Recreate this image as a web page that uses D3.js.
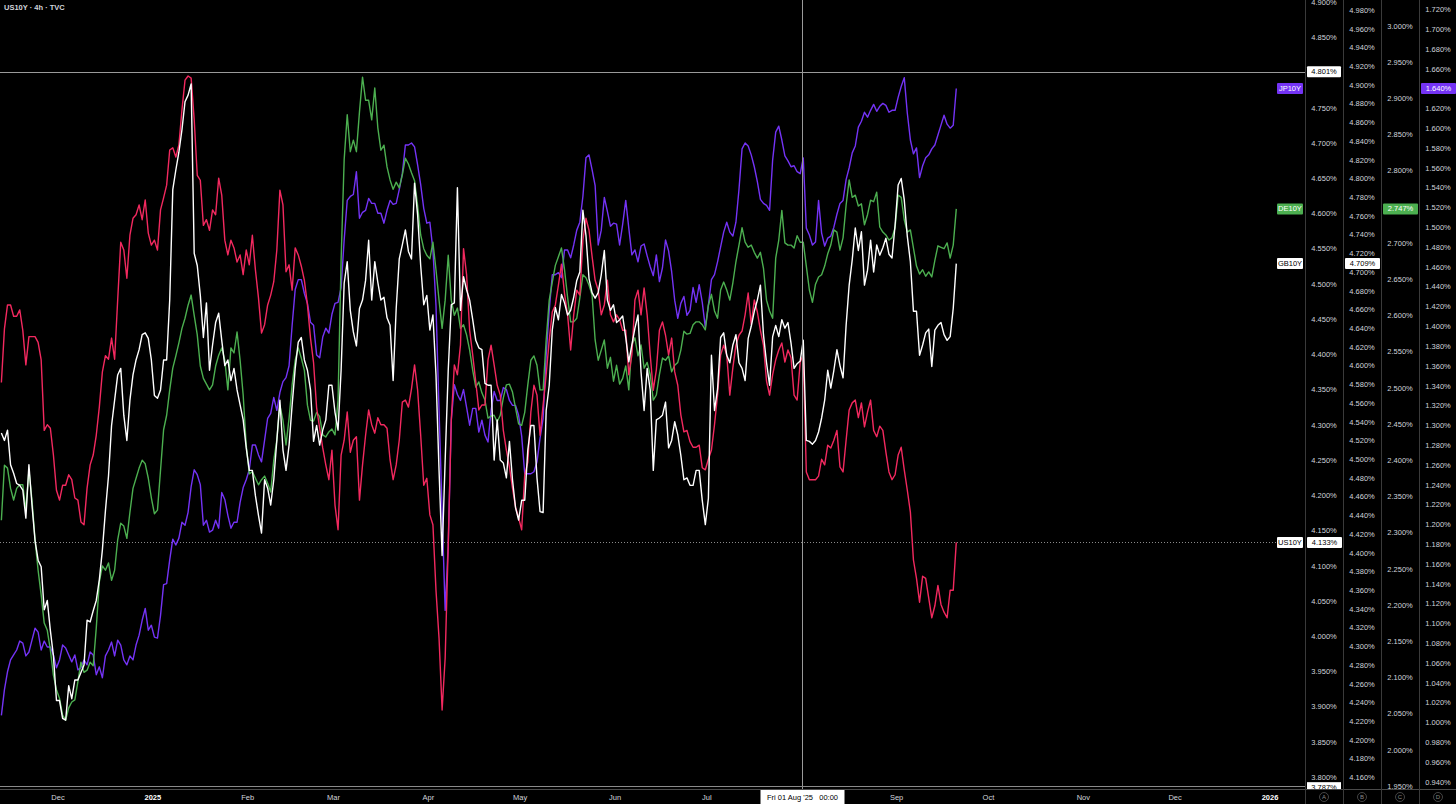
<!DOCTYPE html>
<html><head><meta charset="utf-8">
<script src="https://cdn.jsdelivr.net/npm/d3@7"></script>
<style>
html,body{margin:0;padding:0;background:#000;overflow:hidden}
svg{display:block}
</style></head><body>
<svg id="chart" width="1456" height="804"></svg>
<script>
// ---------- DATA ----------
const chartTitle = "US10Y · 4h · TVC";
const sampleStart = "2024-11-12T12:00:00Z";
const sampleStepHours = 24;

const us10y = [
4.360,4.436,4.470,4.470,4.454,4.454,4.463,4.434,4.385,4.425,
4.425,4.425,4.417,4.392,4.292,4.300,4.295,4.257,4.207,4.193,
4.214,4.214,4.229,4.222,4.196,4.193,4.162,4.158,4.210,4.243,
4.257,4.285,4.325,4.375,4.398,4.393,4.423,4.393,4.477,4.559,
4.548,4.508,4.569,4.593,4.598,4.612,4.591,4.619,4.572,4.555,
4.562,4.548,4.605,4.622,4.640,4.690,4.693,4.680,4.697,4.747,
4.789,4.795,4.792,4.733,4.654,4.647,4.583,4.591,4.576,4.605,
4.598,4.650,4.626,4.562,4.541,4.562,4.551,4.531,4.541,4.513,
4.548,4.527,4.569,4.520,4.480,4.430,4.442,4.470,4.484,4.503,
4.548,4.633,4.612,4.517,4.527,4.491,4.551,4.541,4.525,4.505,
4.470,4.423,4.388,4.324,4.295,4.267,4.243,4.222,4.264,4.186,
4.151,4.257,4.278,4.318,4.261,4.278,4.283,4.193,4.243,4.285,
4.321,4.300,4.288,4.310,4.300,4.300,4.295,4.250,4.222,4.243,
4.278,4.332,4.335,4.325,4.351,4.385,4.349,4.285,4.214,4.224,
4.172,4.158,4.065,3.997,3.895,3.969,4.129,4.307,4.385,4.371,
4.413,4.550,4.513,4.434,4.399,4.361,4.321,4.328,4.328,4.392,
4.413,4.385,4.356,4.342,4.292,4.264,4.240,4.210,4.183,4.168,
4.151,4.229,4.247,4.318,4.356,4.342,4.285,4.328,4.371,4.420,
4.460,4.470,4.498,4.528,4.486,4.456,4.406,4.456,4.491,4.484,
4.562,4.593,4.576,4.539,4.505,4.491,4.456,4.470,4.505,4.456,
4.446,4.456,4.449,4.434,4.434,4.371,4.399,4.477,4.491,4.456,
4.494,4.456,4.399,4.349,4.378,4.434,4.446,4.427,4.399,4.423,
4.375,4.356,4.314,4.290,4.292,4.276,4.268,4.268,4.271,4.239,
4.236,4.251,4.264,4.300,4.342,4.399,4.413,4.399,4.342,4.381,
4.413,4.427,4.433,4.456,4.487,4.442,4.477,4.460,4.434,4.413,
4.362,4.342,4.371,4.392,4.406,4.416,4.389,4.406,4.395,4.342,
4.335,4.389,4.399,4.233,4.222,4.222,4.222,4.227,4.251,4.243,
4.271,4.267,4.278,4.292,4.240,4.233,4.278,4.321,4.331,4.335,
4.310,4.331,4.297,4.318,4.335,4.292,4.283,4.298,4.292,4.261,
4.233,4.222,4.229,4.257,4.268,4.236,4.207,4.176,4.108,4.082,
4.048,4.085,4.082,4.054,4.026,4.043,4.072,4.045,4.034,4.026,
4.065,4.065,4.133];

const gb10y = [
4.528,4.520,4.531,4.494,4.485,4.474,4.472,4.467,4.437,4.494,
4.451,4.413,4.392,4.385,4.339,4.349,4.317,4.290,4.242,4.242,
4.223,4.221,4.258,4.244,4.264,4.264,4.272,4.280,4.328,4.326,
4.338,4.349,4.371,4.403,4.445,4.482,4.536,4.563,4.590,4.597,
4.547,4.520,4.563,4.590,4.606,4.617,4.633,4.635,4.629,4.606,
4.568,4.565,4.574,4.606,4.606,4.670,4.788,4.809,4.828,4.852,
4.882,4.889,4.901,4.720,4.707,4.675,4.630,4.667,4.595,4.622,
4.646,4.656,4.627,4.600,4.606,4.584,4.597,4.574,4.558,4.542,
4.512,4.488,4.488,4.461,4.440,4.421,4.478,4.469,4.451,4.478,
4.520,4.563,4.510,4.488,4.515,4.558,4.597,4.625,4.630,4.606,
4.595,4.574,4.519,4.536,4.515,4.531,4.542,4.579,4.579,4.550,
4.531,4.595,4.688,4.711,4.659,4.636,4.621,4.661,4.670,4.691,
4.734,4.670,4.711,4.689,4.670,4.673,4.651,4.643,4.584,4.661,
4.714,4.729,4.745,4.722,4.714,4.795,4.761,4.707,4.665,4.675,
4.638,4.654,4.590,4.488,4.397,4.499,4.595,4.665,4.667,4.790,
4.659,4.695,4.681,4.670,4.649,4.627,4.619,4.617,4.581,4.579,
4.579,4.499,4.542,4.499,4.496,4.480,4.519,4.478,4.448,4.435,
4.456,4.456,4.510,4.536,4.536,4.480,4.444,4.443,4.552,4.579,
4.638,4.662,4.649,4.676,4.667,4.654,4.659,4.673,4.691,4.700,
4.766,4.739,4.693,4.678,4.672,4.678,4.697,4.723,4.670,4.659,
4.665,4.646,4.649,4.653,4.630,4.604,4.622,4.640,4.654,4.593,
4.552,4.597,4.574,4.488,4.542,4.544,4.547,4.561,4.512,4.520,
4.540,4.526,4.504,4.478,4.480,4.472,4.472,4.488,4.488,4.456,
4.430,4.458,4.611,4.552,4.575,4.630,4.635,4.611,4.603,4.622,
4.633,4.603,4.597,4.584,4.629,4.642,4.658,4.670,4.686,4.633,
4.603,4.579,4.631,4.643,4.631,4.649,4.640,4.646,4.624,4.597,
4.602,4.605,4.627,4.520,4.519,4.516,4.520,4.529,4.544,4.563,
4.595,4.576,4.595,4.617,4.600,4.587,4.643,4.686,4.713,4.747,
4.723,4.743,4.686,4.702,4.734,4.700,4.729,4.718,4.726,4.736,
4.719,4.715,4.750,4.793,4.800,4.777,4.738,4.711,4.658,4.658,
4.611,4.622,4.635,4.639,4.599,4.638,4.643,4.646,4.633,4.627,
4.631,4.661,4.709];

const de10y = [
2.317,2.393,2.389,2.361,2.345,2.361,2.366,2.366,2.331,2.386,
2.345,2.290,2.248,2.214,2.175,2.165,2.138,2.103,2.083,2.071,
2.048,2.041,2.058,2.066,2.069,2.094,2.121,2.107,2.110,2.121,
2.116,2.168,2.232,2.254,2.248,2.258,2.234,2.248,2.290,2.313,
2.309,2.292,2.328,2.361,2.375,2.389,2.400,2.395,2.375,2.348,
2.326,2.331,2.386,2.442,2.462,2.497,2.527,2.544,2.562,2.582,
2.596,2.614,2.628,2.600,2.573,2.530,2.513,2.505,2.497,2.504,
2.530,2.545,2.555,2.538,2.497,2.555,2.548,2.577,2.538,2.490,
2.421,2.381,2.384,2.375,2.366,2.373,2.378,2.368,2.356,2.400,
2.428,2.476,2.455,2.421,2.458,2.504,2.538,2.555,2.541,2.524,
2.476,2.455,2.454,2.466,2.460,2.435,2.432,2.439,2.443,2.435,
2.483,2.676,2.815,2.877,2.826,2.842,2.826,2.881,2.929,2.897,
2.897,2.870,2.914,2.859,2.828,2.835,2.805,2.787,2.774,2.784,
2.776,2.794,2.817,2.809,2.797,2.786,2.752,2.711,2.692,2.683,
2.678,2.701,2.663,2.621,2.582,2.621,2.683,2.621,2.600,2.610,
2.582,2.587,2.573,2.552,2.524,2.501,2.508,2.493,2.483,2.458,
2.461,2.462,2.453,2.462,2.486,2.504,2.505,2.494,2.472,2.450,
2.448,2.466,2.504,2.538,2.544,2.531,2.497,2.497,2.566,2.621,
2.646,2.669,2.681,2.693,2.663,2.625,2.591,2.591,2.596,2.624,
2.656,2.652,2.642,2.628,2.566,2.538,2.552,2.566,2.527,2.542,
2.509,2.531,2.505,2.513,2.530,2.497,2.559,2.569,2.544,2.559,
2.527,2.535,2.518,2.483,2.490,2.518,2.541,2.538,2.544,2.522,
2.531,2.535,2.552,2.578,2.574,2.575,2.587,2.591,2.591,2.587,
2.580,2.614,2.629,2.606,2.596,2.635,2.646,2.635,2.621,2.645,
2.674,2.697,2.721,2.701,2.694,2.697,2.687,2.679,2.687,2.665,
2.621,2.606,2.596,2.679,2.704,2.745,2.700,2.697,2.697,2.693,
2.710,2.701,2.701,2.668,2.635,2.618,2.643,2.653,2.656,2.668,
2.685,2.697,2.718,2.715,2.690,2.707,2.752,2.787,2.763,2.766,
2.751,2.754,2.725,2.739,2.759,2.757,2.770,2.722,2.715,2.711,
2.704,2.707,2.721,2.766,2.763,2.732,2.715,2.718,2.693,2.668,
2.657,2.663,2.654,2.660,2.653,2.676,2.696,2.694,2.692,2.700,
2.679,2.697,2.747];

const jp10y = [
1.007,1.033,1.051,1.063,1.068,1.073,1.082,1.080,1.067,1.071,
1.083,1.095,1.091,1.073,1.082,1.076,1.076,1.068,1.055,1.063,
1.078,1.075,1.068,1.061,1.068,1.053,1.055,1.063,1.058,1.071,
1.068,1.048,1.056,1.045,1.067,1.073,1.081,1.067,1.083,1.078,
1.063,1.058,1.067,1.063,1.078,1.088,1.103,1.115,1.093,1.098,
1.086,1.085,1.108,1.139,1.140,1.164,1.185,1.179,1.186,1.202,
1.199,1.212,1.238,1.255,1.250,1.240,1.199,1.204,1.192,1.194,
1.204,1.196,1.232,1.225,1.209,1.196,1.202,1.202,1.222,1.237,
1.245,1.255,1.280,1.280,1.270,1.263,1.285,1.307,1.312,1.328,
1.315,1.333,1.344,1.348,1.360,1.401,1.437,1.447,1.447,1.433,
1.423,1.404,1.401,1.371,1.368,1.389,1.398,1.393,1.412,1.423,
1.424,1.439,1.487,1.527,1.531,1.533,1.556,1.509,1.515,1.517,
1.529,1.524,1.524,1.514,1.514,1.504,1.517,1.527,1.523,1.524,
1.538,1.554,1.583,1.583,1.585,1.581,1.563,1.543,1.519,1.504,
1.505,1.477,1.421,1.315,1.213,1.113,1.179,1.305,1.341,1.331,
1.325,1.336,1.318,1.300,1.317,1.317,1.293,1.305,1.290,1.283,
1.315,1.334,1.325,1.325,1.338,1.336,1.325,1.320,1.320,1.310,
1.289,1.251,1.251,1.251,1.253,1.263,1.287,1.307,1.371,1.416,
1.452,1.452,1.454,1.449,1.477,1.477,1.469,1.482,1.497,1.505,
1.531,1.570,1.573,1.558,1.542,1.482,1.497,1.530,1.516,1.501,
1.504,1.503,1.482,1.503,1.527,1.499,1.472,1.477,1.465,1.481,
1.483,1.471,1.460,1.451,1.472,1.445,1.459,1.487,1.476,1.455,
1.426,1.408,1.423,1.430,1.411,1.416,1.439,1.424,1.442,1.424,
1.399,1.421,1.447,1.452,1.465,1.480,1.495,1.505,1.495,1.491,
1.505,1.538,1.579,1.585,1.582,1.573,1.561,1.546,1.528,1.524,
1.522,1.517,1.568,1.596,1.602,1.588,1.572,1.567,1.561,1.562,
1.556,1.554,1.570,1.499,1.492,1.482,1.485,1.527,1.494,1.481,
1.489,1.491,1.500,1.513,1.524,1.527,1.548,1.560,1.575,1.582,
1.601,1.607,1.616,1.611,1.618,1.624,1.617,1.622,1.625,1.623,
1.616,1.618,1.618,1.631,1.642,1.651,1.615,1.588,1.574,1.580,
1.550,1.562,1.570,1.573,1.579,1.583,1.593,1.603,1.613,1.604,
1.600,1.603,1.640];

const seriesNames  = ["JP10Y", "DE10Y", "US10Y", "GB10Y"];
const seriesColors = ["#7433F5", "#4CAF50", "#F2295F", "#FFFFFF"];

const timeTickDates  = ["2024-12-01","2025-01-01","2025-02-01","2025-03-01","2025-04-01","2025-05-01","2025-06-01","2025-07-01","2025-08-01","2025-09-01","2025-10-01","2025-11-01","2025-12-01","2026-01-01"];
const timeTickLabels = ["Dec","2025","Feb","Mar","Apr","May","Jun","Jul","Aug","Sep","Oct","Nov","Dec","2026"];

// axis tick values (hundredths of a percent)
const usTicks = d3.range(380, 491, 5).map(v => v / 100);
const gbTicks = d3.range(416, 499, 2).map(v => v / 100);
const deTicks = d3.range(195, 301, 5).map(v => v / 100);
const jpTicks = d3.range(94, 173, 2).map(v => v / 100);
const axisLetters = ["A", "B", "C", "D"];

const crosshairDate = "2025-08-01T00:00:00Z";
const crosshairDateLabel = "Fri 01 Aug '25   00:00";
const crosshairValue = 4.801;
const lowLineValue = 3.787;

// ---------- LAYOUT ----------
const W = 1456, H = 804;
const plotRight = 1305, plotBottom = 786, timeAxisTop = 789;
const colW = 38;
const colX = [1305, 1343, 1381, 1419];
const FONT = "'Liberation Sans', Arial, 'DejaVu Sans', sans-serif";
const textCol = "#D1D4DC";

const svg = d3.select("#chart");
svg.append("rect").attr("width", W).attr("height", H).attr("fill", "#000");

const defs = svg.append("defs");
defs.append("clipPath").attr("id", "plotClip").append("rect")
  .attr("x", 0).attr("y", 0).attr("width", plotRight).attr("height", plotBottom);
defs.append("clipPath").attr("id", "axisClip").append("rect")
  .attr("x", plotRight).attr("y", 0).attr("width", W - plotRight).attr("height", timeAxisTop);

// scales
const x = d3.scaleUtc()
  .domain([new Date("2024-12-01T00:00:00Z"), new Date("2026-01-01T00:00:00Z")])
  .range([58, 1270]);
const yUS = d3.scaleLinear().domain([3.80, 4.90]).range([777, 2]);
const yGB = d3.scaleLinear().domain([4.16, 4.98]).range([777.3, 10]);
const yDE = d3.scaleLinear().domain([1.95, 3.00]).range([786, 25.7]);
const yJP = d3.scaleLinear().domain([0.94, 1.72]).range([781.7, 9.3]);

const t0 = new Date(sampleStart);
const dates = us10y.map((_, i) => d3.utcHour.offset(t0, i * sampleStepHours));

const seriesData = { "JP10Y": jp10y, "DE10Y": de10y, "US10Y": us10y, "GB10Y": gb10y };
const seriesScale = { "JP10Y": yJP, "DE10Y": yDE, "US10Y": yUS, "GB10Y": yGB };
const seriesCol = { "JP10Y": 3, "DE10Y": 2, "US10Y": 0, "GB10Y": 1 };
const colScales = [yUS, yGB, yDE, yJP];
const colTicks = [usTicks, gbTicks, deTicks, jpTicks];

// y positions occupied by labels in each axis column (to hide colliding ticks)
const occupied = [[], [], [], []];
seriesNames.forEach(n => {
  const arr = seriesData[n];
  occupied[seriesCol[n]].push(seriesScale[n](arr[arr.length - 1]));
});
occupied[0].push(yUS(crosshairValue));

// ---------- PRICE LINE ----------
const lastUS = us10y[us10y.length - 1];
svg.append("line")
  .attr("x1", 0).attr("x2", plotRight)
  .attr("y1", Math.round(yUS(lastUS)) + 0.5).attr("y2", Math.round(yUS(lastUS)) + 0.5)
  .attr("stroke", "#8a8a8a").attr("stroke-width", 1).attr("stroke-dasharray", "1,2");

// ---------- LINES ----------
const plot = svg.append("g").attr("clip-path", "url(#plotClip)");
seriesNames.forEach((name, k) => {
  const ys = seriesScale[name];
  const line = d3.line().x((d, i) => x(dates[i])).y(d => ys(d));
  plot.append("path")
    .datum(seriesData[name])
    .attr("d", line)
    .attr("fill", "none")
    .attr("stroke", seriesColors[k])
    .attr("stroke-width", 1.4)
    .attr("stroke-linejoin", "round");
});

// crosshair
const cx = Math.round(x(new Date(crosshairDate))) + 0.5;
svg.append("line").attr("x1", cx).attr("x2", cx).attr("y1", 0).attr("y2", timeAxisTop)
  .attr("stroke", "#9a9a9a").attr("stroke-width", 1);
const chY = Math.round(yUS(crosshairValue)) + 0.5;
svg.append("line").attr("x1", 0).attr("x2", plotRight).attr("y1", chY).attr("y2", chY)
  .attr("stroke", "#9a9a9a").attr("stroke-width", 1);

// bottom lines
const lowY = Math.round(yUS(lowLineValue)) + 0.5;
svg.append("line").attr("x1", 0).attr("x2", plotRight).attr("y1", lowY).attr("y2", lowY)
  .attr("stroke", "#8a8a8a").attr("stroke-width", 1);
svg.append("line").attr("x1", 0).attr("x2", W)
  .attr("y1", timeAxisTop + 0.5).attr("y2", timeAxisTop + 0.5)
  .attr("stroke", "#4a4a4a").attr("stroke-width", 1);

// axis column separators
colX.forEach(cxp => {
  svg.append("line").attr("x1", cxp + 0.5).attr("x2", cxp + 0.5).attr("y1", 0).attr("y2", H)
    .attr("stroke", "#3a3a3a").attr("stroke-width", 1);
});

// ---------- PRICE AXES ----------
function drawAxis(col) {
  const scale = colScales[col];
  const ticks = colTicks[col].filter(t => occupied[col].every(oy => Math.abs(scale(t) - oy) > 6));
  const g = svg.append("g").attr("clip-path", "url(#axisClip)")
    .append("g").attr("transform", `translate(${colX[col] + colW / 2},0)`);
  g.call(d3.axisRight(scale).tickValues(ticks).tickSize(0).tickPadding(0)
    .tickFormat(d => d.toFixed(3) + "%"));
  g.select(".domain").remove();
  g.selectAll("text")
    .attr("x", 0).attr("text-anchor", "middle")
    .attr("fill", textCol)
    .style("font-size", "7.5px").style("font-family", FONT);
}
[0, 1, 2, 3].forEach(drawAxis);

// ---------- TIME AXIS ----------
const timeTicks = timeTickDates.map((d, i) => ({ date: new Date(d + "T00:00:00Z"), label: timeTickLabels[i] }))
  .filter(t => Math.abs(x(t.date) - cx) > 45);
svg.append("g").selectAll("text").data(timeTicks).join("text")
  .attr("x", d => x(d.date))
  .attr("y", 800)
  .attr("text-anchor", "middle")
  .attr("fill", d => /^\d{4}$/.test(d.label) ? "#FFFFFF" : textCol)
  .style("font-weight", d => /^\d{4}$/.test(d.label) ? "bold" : "normal")
  .style("font-size", "7.5px").style("font-family", FONT)
  .text(d => d.label);

// axis letters
axisLetters.forEach((L, i) => {
  const c = colX[i] + colW / 2;
  svg.append("circle").attr("cx", c).attr("cy", 797).attr("r", 4.5)
    .attr("fill", "none").attr("stroke", "#555").attr("stroke-width", 0.8);
  svg.append("text").attr("x", c).attr("y", 799.3).attr("text-anchor", "middle")
    .attr("fill", "#888").style("font-size", "6px").style("font-family", FONT).text(L);
});

// ---------- LABELS ----------
function valueBox(xc, yc, w, txt, bg, fg) {
  const g = svg.append("g");
  g.append("rect").attr("x", xc - w / 2).attr("y", yc - 5.5).attr("width", w).attr("height", 11)
    .attr("rx", 1).attr("fill", bg);
  g.append("text").attr("x", xc).attr("y", yc).attr("dy", "0.34em").attr("text-anchor", "middle")
    .attr("fill", fg).style("font-size", "7.5px").style("font-family", FONT).text(txt);
  return g;
}

const labelStyle = {
  "JP10Y": { bg: "#7433F5", fg: "#FFFFFF" },
  "DE10Y": { bg: "#4CAF50", fg: "#FFFFFF" },
  "US10Y": { bg: "#FFFFFF", fg: "#000000" },
  "GB10Y": { bg: "#FFFFFF", fg: "#000000" }
};
seriesNames.forEach(name => {
  const arr = seriesData[name];
  const last = arr[arr.length - 1];
  const yy = seriesScale[name](last);
  const st = labelStyle[name];
  valueBox(1290, yy, 26, name, st.bg, st.fg);
  const col = seriesCol[name];
  valueBox(colX[col] + colW / 2 + 0.5, yy, 35, last.toFixed(3) + "%", st.bg, st.fg);
});

// crosshair price label
valueBox(colX[0] + colW / 2, yUS(crosshairValue), 34, crosshairValue.toFixed(3) + "%", "#FFFFFF", "#000000");
// low line label (partly hidden under the time axis)
svg.append("g").attr("clip-path", "url(#axisClip)").call(g => {
  g.append("rect").attr("x", colX[0] + 2).attr("y", yUS(lowLineValue) - 4).attr("width", 34).attr("height", 11).attr("fill", "#FFFFFF");
  g.append("text").attr("x", colX[0] + colW / 2).attr("y", yUS(lowLineValue) + 1.5).attr("dy", "0.34em")
    .attr("text-anchor", "middle").attr("fill", "#000").style("font-size", "7.5px").style("font-family", FONT)
    .text(lowLineValue.toFixed(3) + "%");
});

// crosshair date label
const dl = svg.append("g");
dl.append("rect").attr("x", cx - 42).attr("y", 790).attr("width", 84).attr("height", 14).attr("fill", "#FFFFFF");
dl.append("text").attr("x", cx).attr("y", 797).attr("dy", "0.34em").attr("text-anchor", "middle")
  .attr("fill", "#000").style("font-size", "7.5px").style("font-family", FONT).style("white-space", "pre")
  .attr("xml:space", "preserve").text(crosshairDateLabel);

// title
svg.append("text").attr("x", 4).attr("y", 10).attr("fill", textCol)
  .style("font-size", "7.5px").style("font-weight", "bold").style("font-family", FONT)
  .text(chartTitle);
</script>
</body></html>
